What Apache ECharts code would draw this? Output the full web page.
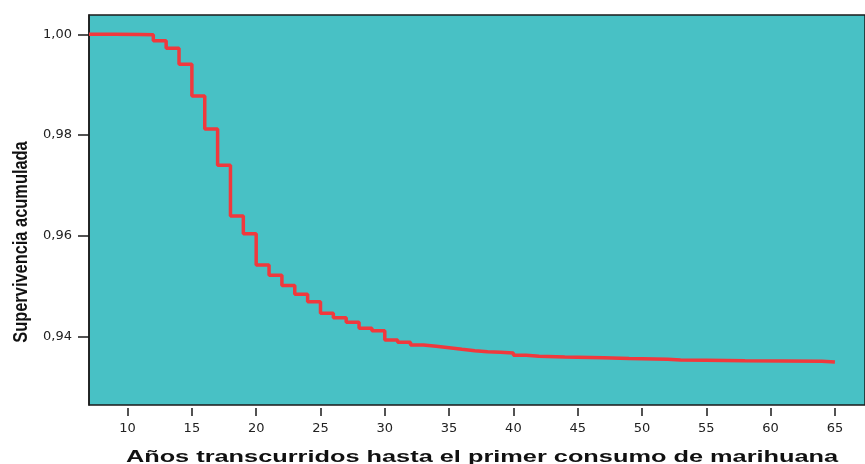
<!DOCTYPE html>
<html>
<head>
<meta charset="utf-8">
<script src="https://cdn.jsdelivr.net/npm/echarts@6/dist/echarts.min.js"></script>
<style>
html,body{margin:0;padding:0;background:#ffffff;}
#chart{width:865px;height:464px;}
</style>
</head>
<body>
<div id="chart"></div>
<script>
// Step times (years) and cumulative survival value from that time on
var years = [7, 9, 11, 12, 13, 14, 15, 16, 17, 18, 19, 20, 21, 22, 23, 24, 25, 26, 27, 28, 29, 30,
  31, 32, 33, 34, 35, 36, 37, 38, 39, 40, 41, 42, 44, 47, 49, 52, 53, 55, 58, 64, 65];
var survival = [1.00000, 0.99995, 0.99990, 0.99873, 0.99722, 0.99404, 0.98775, 0.98120, 0.97398,
  0.96391, 0.96040, 0.95418, 0.95215, 0.95011, 0.94836, 0.94686, 0.94459, 0.94371, 0.94280,
  0.94161, 0.94113, 0.93929, 0.93883, 0.93830, 0.93803, 0.93776, 0.93744, 0.93716, 0.93696,
  0.93684, 0.93670, 0.93625, 0.93605, 0.93591, 0.93577, 0.93560, 0.93545, 0.93531, 0.93525,
  0.93515, 0.93505, 0.93490, 0.93490];
var xTicks = [10, 15, 20, 25, 30, 35, 40, 45, 50, 55, 60, 65];
var yTicks = [0.94, 0.96, 0.98, 1.00];
var xTitle = 'Años transcurridos hasta el primer consumo de marihuana';
var yTitle = 'Supervivencia acumulada';

var data = years.map(function (t, i) { return [t, survival[i]]; });

var chart = echarts.init(document.getElementById('chart'), null, {renderer: 'canvas'});
chart.setOption({
  animation: false,
  grid: {
    left: 89, top: 15, right: 0, bottom: 59,
    show: true,
    backgroundColor: '#48C1C5',
    borderColor: '#1a1a1a',
    borderWidth: 1.5
  },
  xAxis: {
    type: 'value',
    min: 7, max: 67.34,
    offset: 3,
    axisLine: {show: false},
    splitLine: {show: false},
    axisTick: {show: true, length: 8, customValues: xTicks, lineStyle: {color: '#1a1a1a', width: 1.5}},
    axisLabel: {
      customValues: xTicks, margin: 14,
      fontFamily: '"DejaVu Sans", sans-serif', fontSize: 13, color: '#222'
    }
  },
  yAxis: {
    type: 'value',
    min: 0.92638, max: 1.00383,
    axisLine: {show: true, lineStyle: {color: '#1a1a1a', width: 1.5}},
    splitLine: {show: false},
    axisTick: {show: true, length: 11, customValues: yTicks, lineStyle: {color: '#1a1a1a', width: 1.5}},
    axisLabel: {
      customValues: yTicks, margin: 17,
      fontFamily: '"DejaVu Sans", sans-serif', fontSize: 13, color: '#222',
      formatter: function (v) { return v.toFixed(2).replace('.', ','); }
    }
  },
  series: [{
    type: 'line',
    step: 'end',
    data: data,
    symbol: 'none',
    lineStyle: {color: '#F0393D', width: 3.5}
  }],
  graphic: [
    {
      type: 'text',
      x: 482, y: 457,
      scaleX: 1.49,
      style: {
        text: xTitle,
        font: 'bold 17px "Liberation Sans", Arial, sans-serif',
        fill: '#111',
        align: 'center',
        verticalAlign: 'middle'
      }
    },
    {
      type: 'text',
      x: 21, y: 242,
      rotation: Math.PI / 2,
      scaleX: 0.82,
      style: {
        text: yTitle,
        font: 'bold 20px "Liberation Sans", Arial, sans-serif',
        fill: '#111',
        align: 'center',
        verticalAlign: 'middle'
      }
    }
  ]
});
</script>
</body>
</html>
